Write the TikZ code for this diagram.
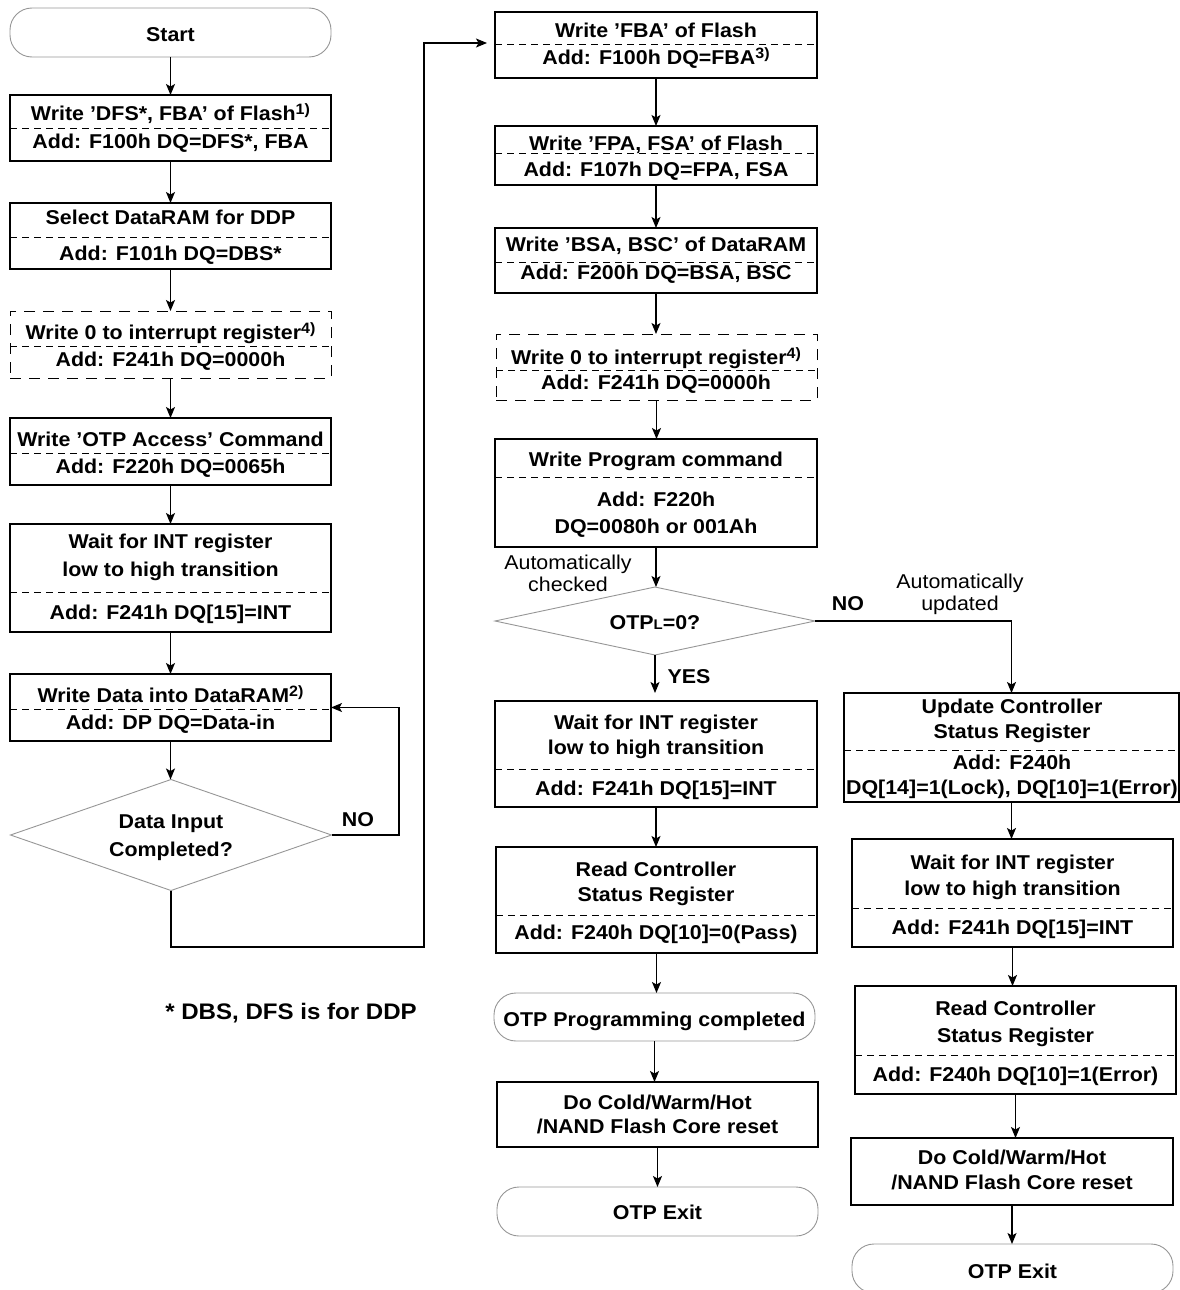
\documentclass[tikz,border=0pt]{standalone}
\usepackage{fontspec}
\setmainfont{Liberation Sans}[FakeStretch=1.07]
\usetikzlibrary{arrows.meta,shapes.geometric}
\definecolor{edgegray}{RGB}{150,150,150}
\newcommand\fnote[1]{\raisebox{6pt}{\fontsize{15}{15}\selectfont #1}}
\newcommand\pbox[6]{\node[#1, minimum width={#5-#3}, minimum height={#6-#4}] (#2) at ({(#3+#5)/2},{(#4+#6)/2}) {};}
\newcommand\divl[2]{\draw[divider] (#1.west |- 0,#2) -- (#1.east |- 0,#2);}
\tikzset{
  procbox/.style={draw, line width=1.2pt, inner sep=0pt, outer sep=0pt},
  dashbox/.style={procbox, dash pattern=on 11pt off 8pt, line width=1pt},
  termbox/.style={draw=edgegray, line width=0.9pt, rounded corners=22pt, inner sep=0pt, outer sep=0pt},
  decision/.style={diamond, draw=edgegray, line width=0.9pt, inner sep=0pt, outer sep=0pt},
  divider/.style={line width=0.9pt, dash pattern=on 7pt off 5pt},
  txt/.style={inner sep=0pt, text height=14.5pt, text depth=0pt, font=\fontsize{20}{24}\selectfont\bfseries},
  txtr/.style={txt, font=\fontsize{20}{24}\selectfont\mdseries},
  arr/.style={line width=1.2pt, -{Stealth[length=11pt,width=9pt,inset=2.5pt]}},
  line/.style={line width=1.2pt}
}
\begin{document}
\begin{tikzpicture}[x=1pt,y=-1pt]
\useasboundingbox (0,0) rectangle (1180,1290);

% ---------- left column ----------
\pbox{termbox}{start}{10}{8}{331}{57}
\node[txt] (tstart) at (170.5,34) {Start};

\pbox{procbox}{b1}{10}{95}{331}{161}
\divl{b1}{128}
\node[txt] (t1a) at (170.5,113) {Write ’DFS*, FBA’ of Flash\fnote{1)}};
\node[txt] (t1b) at (170.5,141) {Add: F100h DQ=DFS*, FBA};

\pbox{procbox}{b2}{10}{203}{331}{269}
\divl{b2}{237}
\node[txt] (t2a) at (170.5,217) {Select DataRAM for DDP};
\node[txt] (t2b) at (170.5,253) {Add: F101h DQ=DBS*};

\pbox{dashbox}{b3}{10}{311}{331}{378}
\divl{b3}{346}
\node[txt] (t3a) at (170.5,332) {Write 0 to interrupt register\fnote{4)}};
\node[txt] (t3b) at (170.5,359) {Add: F241h DQ=0000h};

\pbox{procbox}{b4}{10}{418}{331}{485}
\divl{b4}{453}
\node[txt] (t4a) at (170.5,439) {Write ’OTP Access’ Command};
\node[txt] (t4b) at (170.5,466) {Add: F220h DQ=0065h};

\pbox{procbox}{b5}{10}{524}{331}{632}
\divl{b5}{592}
\node[txt] (t5a) at (170.5,541) {Wait for INT register};
\node[txt] (t5b) at (170.5,569) {low to high transition};
\node[txt] (t5c) at (170.5,612) {Add: F241h DQ[15]=INT};

\pbox{procbox}{b6}{10}{674}{331}{741}
\divl{b6}{709}
\node[txt] (t6a) at (170.5,695) {Write Data into DataRAM\fnote{2)}};
\node[txt] (t6b) at (170.5,722) {Add: DP DQ=Data-in};

\node[decision, minimum width=321, minimum height=111] (d1) at (171,835) {};
\node[txt] (td1a) at (171,821) {Data Input};
\node[txt] (td1b) at (171,849) {Completed?};
\node[txt] (nol) at (358,819) {NO};

\node[txt, font=\fontsize{22.5}{26}\selectfont\bfseries, text height=16pt] (foot) at (291,1011) {* DBS, DFS is for DDP};

% ---------- middle column ----------
\pbox{procbox}{fba}{495}{12}{817}{78}
\divl{fba}{44}
\node[txt] (tfa) at (656,30) {Write ’FBA’ of Flash};
\node[txt] (tfb) at (656,57) {Add: F100h DQ=FBA\fnote{3)}};

\pbox{procbox}{fpa}{495}{126}{817}{185}
\divl{fpa}{153}
\node[txt] (tpa) at (656,143) {Write ’FPA, FSA’ of Flash};
\node[txt] (tpb) at (656,169) {Add: F107h DQ=FPA, FSA};

\pbox{procbox}{bsa}{495}{228}{817}{293}
\divl{bsa}{262}
\node[txt] (tba) at (656,244) {Write ’BSA, BSC’ of DataRAM};
\node[txt] (tbb) at (656,272) {Add: F200h DQ=BSA, BSC};

\pbox{dashbox}{mi}{496}{334}{817}{400}
\divl{mi}{370}
\node[txt] (tia) at (656,357) {Write 0 to interrupt register\fnote{4)}};
\node[txt] (tib) at (656,382) {Add: F241h DQ=0000h};

\pbox{procbox}{prog}{495}{439}{817}{547}
\divl{prog}{477}
\node[txt] (tga) at (656,459) {Write Program command};
\node[txt] (tgb) at (656,499) {Add: F220h};
\node[txt] (tgc) at (656,526) {DQ=0080h or 001Ah};

\node[txtr] (ac1) at (568,562) {Automatically};
\node[txtr] (ac2) at (568,584) {checked};

\node[decision, minimum width=320, minimum height=68] (d2) at (655,621) {};
\node[txt] (td2) at (655,622) {OTP{\fontsize{14}{14}\selectfont L}=0?};
\node[txt] (yes) at (689,676) {YES};
\node[txt] (nor) at (848,603) {NO};
\node[txtr] (au1) at (960,581) {Automatically};
\node[txtr] (au2) at (960,603) {updated};

\pbox{procbox}{mw}{495}{701}{817}{807}
\divl{mw}{769}
\node[txt] (twa) at (656,722) {Wait for INT register};
\node[txt] (twb) at (656,747) {low to high transition};
\node[txt] (twc) at (656,788) {Add: F241h DQ[15]=INT};

\pbox{procbox}{mr}{496}{847}{817}{953}
\divl{mr}{915}
\node[txt] (tra) at (656,869) {Read Controller};
\node[txt] (trb) at (656,894) {Status Register};
\node[txt] (trc) at (656,932) {Add: F240h DQ[10]=0(Pass)};

\pbox{termbox}{mc}{494}{993}{815}{1041}
\node[txt] (tmc) at (654.5,1019) {OTP Programming completed};

\pbox{procbox}{md}{497}{1082}{818}{1147}
\node[txt] (tmda) at (657.5,1102) {Do Cold/Warm/Hot};
\node[txt] (tmdb) at (657.5,1126) {/NAND Flash Core reset};

\pbox{termbox}{me}{497}{1187}{818}{1236}
\node[txt] (tme) at (657.5,1212) {OTP Exit};

% ---------- right column ----------
\pbox{procbox}{ru}{844}{693}{1179}{802}
\divl{ru}{750}
\node[txt] (tua) at (1012,706) {Update Controller};
\node[txt] (tub) at (1012,731) {Status Register};
\node[txt] (tuc) at (1012,762) {Add: F240h};
\node[txt] (tud) at (1012,787) {DQ[14]=1(Lock), DQ[10]=1(Error)};

\pbox{procbox}{rw}{852}{839}{1173}{947}
\divl{rw}{908}
\node[txt] (rwa) at (1012.5,862) {Wait for INT register};
\node[txt] (rwb) at (1012.5,888) {low to high transition};
\node[txt] (rwc) at (1012.5,927) {Add: F241h DQ[15]=INT};

\pbox{procbox}{rr}{855}{986}{1176}{1094}
\divl{rr}{1055}
\node[txt] (rra) at (1015.5,1008) {Read Controller};
\node[txt] (rrb) at (1015.5,1035) {Status Register};
\node[txt] (rrc) at (1015.5,1074) {Add: F240h DQ[10]=1(Error)};

\pbox{procbox}{rd}{851}{1138}{1173}{1205}
\node[txt] (rda) at (1012,1157) {Do Cold/Warm/Hot};
\node[txt] (rdb) at (1012,1182) {/NAND Flash Core reset};

\pbox{termbox}{re}{852}{1244}{1173}{1293}
\node[txt] (tre) at (1012.5,1271) {OTP Exit};

% ---------- connectors ----------
\foreach \a/\b in {start/b1,b1/b2,b2/b3,b3/b4,b4/b5,b5/b6,b6/d1,
                   fba/fpa,fpa/bsa,bsa/mi,mi/prog,prog/d2,mw/mr,mr/mc,mc/md,md/me,
                   ru/rw,rw/rr,rr/rd,rd/re}
  \draw[arr] (\a.south) -- (\a.south |- \b.north);

\draw[arr, shorten >=8pt] (d2.south) -- (d2.south |- mw.north);

\coordinate (loopx) at (399,835);
\draw[arr] (d1.east) -- (loopx) |- (b6.east);

\coordinate (jb) at (171,947);
\coordinate (jr) at (424,947);
\draw[arr, shorten >=8pt] (d1.south) -- (jb) -- (jr) |- ([yshift=2pt]fba.west);

\draw[arr] (d2.east) -| (ru.north);
\end{tikzpicture}
\end{document}
